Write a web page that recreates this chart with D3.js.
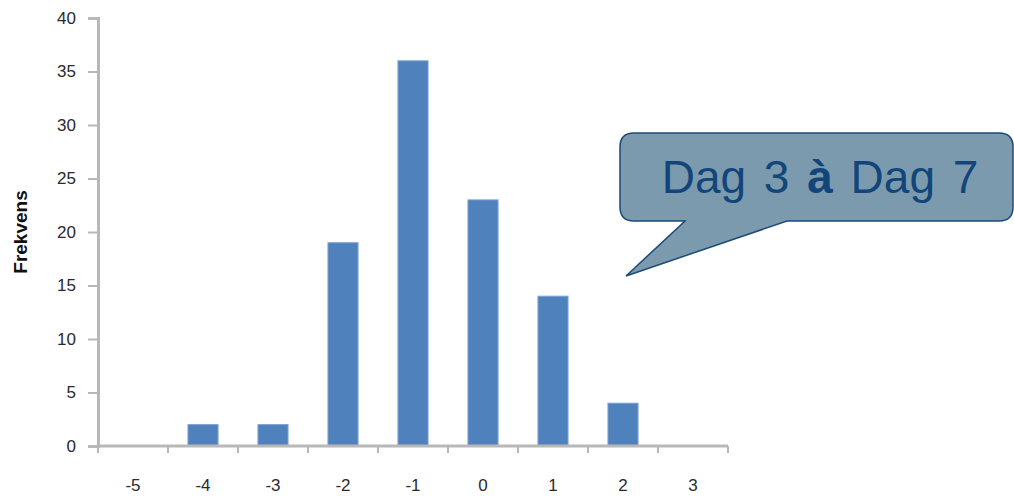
<!DOCTYPE html>
<html>
<head>
<meta charset="utf-8">
<script src="https://cdn.jsdelivr.net/npm/d3@7"></script>
<style>
  body { margin: 0; background: #fff; }
  svg { display: block; }
</style>
</head>
<body>
<div id="chart"></div>
<script>
// data
const categories = ["-5", "-4", "-3", "-2", "-1", "0", "1", "2", "3"];
const frequencies = [0, 2, 2, 19, 36, 23, 14, 4, 0];
const yTicks = [0, 5, 10, 15, 20, 25, 30, 35, 40];
const yLabel = "Frekvens";
const calloutParts = ["Dag 3 ", "à", " Dag 7"];

const W = 1014, H = 496;
const margin = {top: 18, right: 286, bottom: 50, left: 98};
const width = W - margin.left - margin.right,
      height = H - margin.top - margin.bottom;

const svg = d3.select("#chart")
  .append("svg")
  .attr("width", W)
  .attr("height", H);

const g = svg.append("g")
  .attr("transform", `translate(${margin.left},${margin.top})`);

const x = d3.scaleBand()
  .domain(categories)
  .range([0, width])
  .paddingInner(0.57)
  .paddingOuter(0.285);

// band without padding, ticks sit between categories
const xCell = d3.scaleBand().domain(categories).range([0, width]);

const y = d3.scaleLinear()
  .domain([0, 40])
  .range([height, 0]);

const axisColor = "#b8b8b8";
const tickFont = "'Liberation Sans', Arial, sans-serif";

// bars
g.append("g")
  .selectAll("rect")
  .data(frequencies)
  .join("rect")
    .attr("x", (d, i) => x(categories[i]))
    .attr("y", d => y(d))
    .attr("width", x.bandwidth())
    .attr("height", d => height - y(d))
    .attr("fill", "#4f81bd")
    .attr("stroke", "#7fa3d3")
    .attr("stroke-width", 1);

// y axis
const yAxis = g.append("g")
  .call(d3.axisLeft(y).tickValues(yTicks).tickSize(10).tickPadding(12));
yAxis.select(".domain").attr("stroke", axisColor).attr("stroke-width", 3);
yAxis.selectAll(".tick line").attr("stroke", axisColor).attr("stroke-width", 2);
yAxis.selectAll(".tick text")
  .style("font-family", tickFont)
  .style("font-size", "17px")
  .attr("fill", "#2a2a2a");

// x axis: ticks at category boundaries, labels centred
const xAxisG = g.append("g").attr("transform", `translate(0,${height})`);
xAxisG.append("line")
  .attr("x1", 0).attr("x2", width)
  .attr("stroke", axisColor).attr("stroke-width", 3);
xAxisG.selectAll("line.tk")
  .data(categories.concat(["end"]))
  .join("line")
    .attr("class", "tk")
    .attr("x1", (d, i) => i * xCell.bandwidth())
    .attr("x2", (d, i) => i * xCell.bandwidth())
    .attr("y1", 0).attr("y2", 7)
    .attr("stroke", axisColor).attr("stroke-width", 2);
xAxisG.selectAll("text")
  .data(categories)
  .join("text")
    .attr("x", d => xCell(d) + xCell.bandwidth() / 2)
    .attr("y", 45)
    .attr("text-anchor", "middle")
    .style("font-family", tickFont)
    .style("font-size", "17px")
    .attr("fill", "#2a2a2a")
    .text(d => d);

// y label
svg.append("text")
  .attr("transform", `translate(27,${margin.top + y(20)}) rotate(-90)`)
  .attr("text-anchor", "middle")
  .style("font-family", tickFont)
  .style("font-size", "19px")
  .style("font-weight", "bold")
  .attr("fill", "#111")
  .text(yLabel);

// callout bubble
const bx0 = 620, bx1 = 1013, by0 = 133, by1 = 221, r = 14;
const path = d3.path();
path.moveTo(bx0 + r, by0);
path.lineTo(bx1 - r, by0);
path.quadraticCurveTo(bx1, by0, bx1, by0 + r);
path.lineTo(bx1, by1 - r);
path.quadraticCurveTo(bx1, by1, bx1 - r, by1);
path.lineTo(787, by1);
path.lineTo(626, 276);
path.lineTo(685, by1);
path.lineTo(bx0 + r, by1);
path.quadraticCurveTo(bx0, by1, bx0, by1 - r);
path.lineTo(bx0, by0 + r);
path.quadraticCurveTo(bx0, by0, bx0 + r, by0);
path.closePath();

svg.append("path")
  .attr("d", path.toString())
  .attr("fill", "#7b9aad")
  .attr("stroke", "#1b4a78")
  .attr("stroke-width", 1.5);

const label = svg.append("text")
  .attr("x", 820)
  .attr("y", 193)
  .attr("text-anchor", "middle")
  .style("font-family", tickFont)
  .style("font-size", "46px")
  .style("word-spacing", "5px")
  .style("white-space", "pre")
  .attr("fill", "#12467a");
label.selectAll("tspan")
  .data(calloutParts)
  .join("tspan")
    .style("font-weight", (d, i) => i === 1 ? "bold" : "normal")
    .text(d => d);
</script>
</body>
</html>
